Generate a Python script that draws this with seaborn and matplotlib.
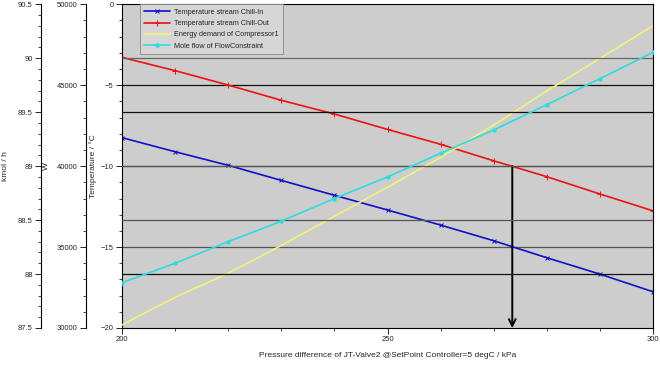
import numpy as np
import matplotlib
matplotlib.use("Agg")
import matplotlib.pyplot as plt
import seaborn as sns

# pressure difference of JT-Valve2 (kPa)
pressure = [200, 210, 220, 230, 240, 250, 260, 270, 280, 290, 300]

# temperature axis (°C)
t_chill_in = [-8.24, -9.11, -9.95, -10.88, -11.80, -12.71, -13.64, -14.61, -15.66, -16.67, -17.76]
t_chill_out = [-3.28, -4.10, -4.99, -5.93, -6.78, -7.73, -8.65, -9.67, -10.65, -11.72, -12.76]

# energy demand (W)
energy = [30190, 31900, 33380, 35100, 36900, 38700, 40540, 42540, 44640, 46660, 48670]

# mole flow (kmol/h)
mole_flow = [87.92, 88.10, 88.30, 88.49, 88.70, 88.90, 89.12, 89.335, 89.57, 89.81, 90.055]

labels = ["Temperature stream Chill-In", "Temperature stream Chill-Out",
          "Energy demand of Compressor1", "Mole flow of FlowConstraint"]

# set point marked with the arrow
setpoint_p = 273.5
setpoint_t = -10.0

sns.set_style("ticks")
plt.rcParams['font.family'] = ['Liberation Sans', 'DejaVu Sans']
plt.rcParams['font.size'] = 5.5

fig = plt.figure(figsize=(6.6, 3.65), dpi=100)
ax = fig.add_axes([122 / 660, 1 - 328 / 365, 531 / 660, (328 - 4.3) / 365])
ax.set_facecolor("#cdcdcd")

ax_w = ax.twinx()
ax_k = ax.twinx()

c_in, c_out, c_en, c_mf = "#1010c8", "#ee1111", "#f4f07c", "#30dcdc"

sns.lineplot(x=pressure, y=t_chill_in, ax=ax, color=c_in, marker="x", markersize=3.5,
             markeredgecolor=c_in, markeredgewidth=0.7, linewidth=1.2, legend=False)
sns.lineplot(x=pressure, y=t_chill_out, ax=ax, color=c_out, marker="+", markersize=4,
             markeredgecolor=c_out, markeredgewidth=0.7, linewidth=1.2, legend=False)
sns.lineplot(x=pressure, y=energy, ax=ax_w, color=c_en, linewidth=1.2, legend=False)
sns.lineplot(x=pressure, y=mole_flow, ax=ax_k, color=c_mf, marker="o", markersize=3.2,
             markeredgecolor=c_mf, markeredgewidth=0, linewidth=1.2, legend=False)

# main (temperature) axis
ax.set_xlim(200, 300)
ax.set_ylim(-20, 0)
ax.set_xticks([200, 250, 300])
ax.set_xticks(np.arange(200, 301, 10), minor=True)
ax.set_yticks([-20, -15, -10, -5, 0])
ax.set_yticks(np.arange(-20, 1, 1), minor=True)
ax.set_xlabel("Pressure difference of JT-Valve2 @SetPoint Controller=5 degC / kPa")
ax.set_ylabel("Temperature / °C")
ax.yaxis.set_label_coords(-0.048, 0.5)
ax.xaxis.set_label_coords(0.5, -0.075)
for sp in ax.spines.values():
    sp.set_color("black")
    sp.set_linewidth(0.8)

# energy axis
ax_w.set_ylim(30000, 50000)
ax_w.set_yticks(np.arange(30000, 50001, 5000))
ax_w.set_yticks(np.arange(30000, 50001, 1000), minor=True)
ax_w.set_ylabel("W")
ax_w.spines["left"].set_position(("axes", -0.068))
ax_w.yaxis.set_label_coords(-0.135, 0.5)

# mole flow axis
ax_k.set_ylim(87.5, 90.5)
ax_k.set_yticks(np.arange(87.5, 90.51, 0.5))
ax_k.set_yticks(np.arange(87.5, 90.51, 0.1), minor=True)
ax_k.yaxis.set_major_formatter(matplotlib.ticker.FormatStrFormatter("%g"))
ax_k.set_ylabel("kmol / h")
ax_k.spines["left"].set_position(("axes", -0.1525))
ax_k.yaxis.set_label_coords(-0.213, 0.5)

for a in (ax_w, ax_k):
    a.yaxis.set_ticks_position("left")
    a.yaxis.set_label_position("left")
    a.spines["left"].set_visible(True)
    a.spines["left"].set_color("black")
    a.spines["left"].set_linewidth(0.8)
    for s in ("right", "top", "bottom"):
        a.spines[s].set_visible(False)
    a.patch.set_visible(False)

for a in (ax, ax_w, ax_k):
    a.tick_params(which="major", length=4, width=0.7, direction="out", labelsize=5.5, pad=2)
    a.tick_params(which="minor", length=2, width=0.6, direction="out")
    a.set_xlabel(a.get_xlabel(), fontsize=6)
    a.set_ylabel(a.get_ylabel(), fontsize=6)

# horizontal grid lines from temperature and mole flow axes
ax.yaxis.grid(True, which="major", linewidth=0.9)
ax.xaxis.grid(False)
for gl, col in zip(ax.yaxis.get_gridlines(), ["none", "#555555", "#555555", "#111111", "none"]):
    gl.set_color(col)
ax_k.yaxis.grid(True, which="major", linewidth=0.9)
for gl, col in zip(ax_k.yaxis.get_gridlines(),
                   ["none", "#111111", "#555555", "#555555", "#111111", "#666666", "none"]):
    gl.set_color(col)
for a in (ax, ax_k):
    a.set_axisbelow(True)

# arrow from Chill-Out at the set point down to the x axis
ax.annotate("", xy=(setpoint_p, -20), xytext=(setpoint_p, setpoint_t),
            arrowprops=dict(arrowstyle="->", color="black", lw=1.4,
                            mutation_scale=12, shrinkA=0, shrinkB=0))

handles = [ax.lines[0], ax.lines[1], ax_w.lines[0], ax_k.lines[0]]
leg = ax_k.legend(handles, labels, loc="upper left", bbox_to_anchor=(0.034, 1.0),
                  bbox_transform=ax.transAxes, fontsize=5.2, frameon=True, fancybox=False,
                  framealpha=1, facecolor="#d6d6d6", edgecolor="#888888",
                  handlelength=3.6, handletextpad=0.5, borderpad=0.6, labelspacing=0.6,
                  borderaxespad=0)
leg.get_frame().set_linewidth(0.6)

fig.savefig("out.png", dpi=100)
